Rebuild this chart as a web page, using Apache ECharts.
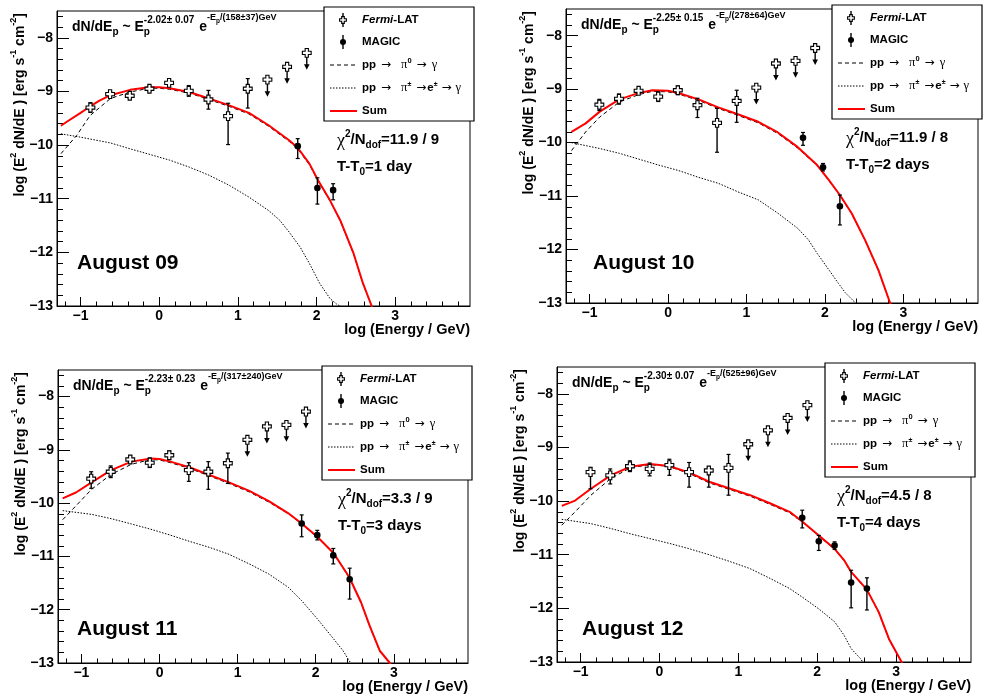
<!DOCTYPE html>
<html>
<head>
<meta charset="utf-8">
<script src="https://cdn.jsdelivr.net/npm/echarts@6/dist/echarts.min.js"></script>
<style>
html, body { margin: 0; padding: 0; background: #fff; }
#chart { width: 990px; height: 698px; }
</style>
</head>
<body>
<div id="chart"></div>
<script>
// ---- Fermi-LAT points: [log10(E/GeV), log flux, lower edge, upper edge] ----
const fermiAug09 = [
  [-0.875, -9.30, -9.39, -9.21], [-0.625, -9.05, -9.10, -9.00], [-0.375, -9.08, -9.13, -9.03],
  [-0.125, -8.95, -9.00, -8.90], [0.125, -8.84, -8.90, -8.78], [0.375, -8.99, -9.09, -8.89],
  [0.625, -9.15, -9.33, -8.98], [0.875, -9.46, -9.99, -9.22], [1.125, -8.95, -9.31, -8.76]
];
const fermiAug10 = [
  [-0.875, -9.29, -9.40, -9.19], [-0.625, -9.18, -9.28, -9.09], [-0.375, -9.03, -9.08, -8.98],
  [-0.125, -9.14, -9.23, -9.05], [0.125, -9.02, -9.10, -8.94], [0.375, -9.30, -9.53, -9.17],
  [0.625, -9.63, -10.18, -9.36], [0.875, -9.22, -9.62, -9.02]
];
const fermiAug11 = [
  [-0.875, -9.54, -9.72, -9.41], [-0.625, -9.41, -9.52, -9.30], [-0.375, -9.18, -9.25, -9.11],
  [-0.125, -9.24, -9.33, -9.15], [0.125, -9.10, -9.18, -9.02], [0.375, -9.38, -9.59, -9.24],
  [0.625, -9.41, -9.74, -9.22], [0.875, -9.25, -9.63, -9.06]
];
const fermiAug12 = [
  [-0.875, -9.46, -9.77, -9.37], [-0.625, -9.52, -9.68, -9.40], [-0.375, -9.35, -9.45, -9.25],
  [-0.125, -9.40, -9.53, -9.29], [0.125, -9.33, -9.52, -9.22], [0.375, -9.46, -9.74, -9.28],
  [0.625, -9.43, -9.74, -9.37], [0.875, -9.38, -9.89, -9.13]
];

// ---- Fermi-LAT upper limits: [log10(E/GeV), log flux] ----
const ulAug09 = [[1.375, -8.78], [1.625, -8.54], [1.875, -8.28]];
const ulAug10 = [[1.125, -8.97], [1.375, -8.52], [1.625, -8.47], [1.875, -8.23]];
const ulAug11 = [[1.125, -8.81], [1.375, -8.56], [1.625, -8.53], [1.875, -8.28]];
const ulAug12 = [[1.125, -8.94], [1.375, -8.68], [1.625, -8.45], [1.875, -8.21]];

// ---- MAGIC points: [log10(E/GeV), log flux, lower edge, upper edge] ----
const magicAug09 = [[1.76, -10.02, -10.25, -9.88], [2.01, -10.80, -11.10, -10.61], [2.21, -10.84, -11.02, -10.72]];
const magicAug10 = [[1.72, -9.91, -10.05, -9.81], [1.975, -10.46, -10.53, -10.39], [2.19, -11.19, -11.54, -10.98]];
const magicAug11 = [[1.82, -10.38, -10.63, -10.22], [2.02, -10.60, -10.69, -10.51], [2.225, -10.98, -11.14, -10.85], [2.435, -11.43, -11.80, -11.22]];
const magicAug12 = [[1.81, -10.31, -10.50, -10.17], [2.02, -10.75, -10.92, -10.64], [2.22, -10.83, -10.90, -10.76], [2.43, -11.52, -11.99, -11.29], [2.63, -11.63, -12.03, -11.43]];

// ---- model curves: total (Sum), pp -> pi0 -> gamma, pp -> pi+- -> e+- -> gamma ----
const sumAug09 = [[-1.25,-9.64],[-1.18,-9.57],[-1.01,-9.41],[-0.88,-9.28],[-0.76,-9.17],[-0.62,-9.07],[-0.37,-8.97],[-0.13,-8.92],[0,-8.92],[0.13,-8.94],[0.38,-9.01],[0.63,-9.13],[0.89,-9.26],[1.14,-9.40],[1.39,-9.63],[1.65,-9.91],[1.76,-10.05],[1.91,-10.35],[2.02,-10.66],[2.17,-11.03],[2.30,-11.40],[2.47,-12.02],[2.59,-12.58],[2.70,-13.0],[2.72,-13.1]];
const pi0Aug09 = [[-1.25,-10.16],[-1.05,-9.82],[-0.88,-9.45],[-0.62,-9.13],[-0.37,-9.01],[-0.13,-8.94],[0,-8.94],[0.13,-8.96],[0.38,-9.03],[0.63,-9.15],[0.89,-9.28],[1.14,-9.42],[1.39,-9.65],[1.65,-9.93],[1.76,-10.07],[1.91,-10.37],[2.02,-10.67],[2.17,-11.04],[2.30,-11.41],[2.47,-12.03],[2.59,-12.59],[2.70,-13.0],[2.72,-13.1]];
const pipmAug09 = [[-1.25,-9.79],[-1.01,-9.85],[-0.62,-9.96],[-0.37,-10.07],[-0.13,-10.17],[0.13,-10.28],[0.38,-10.41],[0.63,-10.56],[0.89,-10.75],[1.14,-10.97],[1.39,-11.22],[1.53,-11.40],[1.65,-11.62],[1.79,-11.90],[1.91,-12.21],[2.04,-12.58],[2.17,-12.86],[2.25,-12.96],[2.32,-13.02]];

const sumAug10 = [[-1.23,-9.80],[-1.05,-9.64],[-0.87,-9.42],[-0.62,-9.19],[-0.37,-9.07],[-0.20,-9.02],[0,-9.03],[0.13,-9.07],[0.39,-9.19],[0.64,-9.34],[0.89,-9.47],[1.15,-9.61],[1.40,-9.81],[1.65,-10.08],[1.90,-10.42],[2.05,-10.70],[2.19,-10.98],[2.34,-11.32],[2.51,-11.82],[2.68,-12.38],[2.83,-13.0],[2.86,-13.1]];
const pi0Aug10 = [[-1.23,-10.15],[-1.05,-9.80],[-0.87,-9.52],[-0.62,-9.24],[-0.37,-9.10],[-0.20,-9.04],[0,-9.05],[0.13,-9.09],[0.39,-9.21],[0.64,-9.36],[0.89,-9.49],[1.15,-9.63],[1.40,-9.83],[1.65,-10.10],[1.90,-10.43],[2.05,-10.71],[2.19,-10.99],[2.34,-11.33],[2.51,-11.83],[2.68,-12.39],[2.83,-13.0],[2.86,-13.1]];
const pipmAug10 = [[-1.23,-10.0],[-0.87,-10.11],[-0.62,-10.20],[-0.37,-10.31],[-0.12,-10.42],[0.13,-10.52],[0.39,-10.65],[0.64,-10.76],[0.89,-10.92],[1.15,-11.07],[1.40,-11.32],[1.65,-11.60],[1.79,-11.82],[1.90,-12.07],[2.05,-12.38],[2.17,-12.63],[2.26,-12.81],[2.37,-12.97],[2.42,-13.05]];

const sumAug11 = [[-1.24,-9.91],[-1.07,-9.80],[-0.87,-9.61],[-0.62,-9.38],[-0.36,-9.22],[-0.11,-9.16],[0,-9.17],[0.14,-9.22],[0.39,-9.33],[0.64,-9.47],[0.89,-9.61],[1.15,-9.77],[1.40,-9.96],[1.65,-10.19],[1.82,-10.38],[2.02,-10.63],[2.23,-10.94],[2.43,-11.39],[2.58,-11.86],[2.69,-12.30],[2.82,-12.77],[2.95,-13.0],[2.97,-13.1]];
const pi0Aug11 = [[-1.24,-10.31],[-1.07,-10.05],[-0.87,-9.74],[-0.62,-9.46],[-0.36,-9.27],[-0.11,-9.18],[0,-9.19],[0.14,-9.24],[0.39,-9.35],[0.64,-9.49],[0.89,-9.63],[1.15,-9.79],[1.40,-9.98],[1.65,-10.20],[1.82,-10.39],[2.02,-10.64],[2.23,-10.95],[2.43,-11.40],[2.58,-11.87],[2.69,-12.31],[2.82,-12.78],[2.95,-13.0],[2.97,-13.1]];
const pipmAug11 = [[-1.24,-10.14],[-0.87,-10.21],[-0.62,-10.29],[-0.36,-10.39],[-0.11,-10.49],[0.14,-10.60],[0.39,-10.72],[0.64,-10.83],[0.89,-10.96],[1.15,-11.14],[1.40,-11.33],[1.65,-11.58],[1.82,-11.83],[2.02,-12.17],[2.23,-12.55],[2.35,-12.77],[2.43,-12.96],[2.47,-13.05]];

const sumAug12 = [[-1.24,-10.09],[-1.07,-9.99],[-0.87,-9.77],[-0.62,-9.52],[-0.37,-9.36],[-0.12,-9.31],[0.03,-9.33],[0.13,-9.35],[0.38,-9.47],[0.63,-9.64],[0.88,-9.76],[1.15,-9.89],[1.40,-10.04],[1.65,-10.20],[1.81,-10.38],[2.02,-10.64],[2.22,-10.89],[2.34,-11.10],[2.43,-11.32],[2.63,-11.65],[2.78,-12.07],[2.91,-12.57],[3.07,-13.0],[3.09,-13.1]];
const pi0Aug12 = [[-1.24,-10.45],[-1.07,-10.20],[-0.87,-9.89],[-0.62,-9.58],[-0.37,-9.38],[-0.12,-9.32],[0.03,-9.34],[0.13,-9.36],[0.38,-9.49],[0.63,-9.66],[0.88,-9.78],[1.15,-9.91],[1.40,-10.06],[1.65,-10.22],[1.81,-10.39],[2.02,-10.65],[2.22,-10.90],[2.34,-11.11],[2.43,-11.33],[2.63,-11.66],[2.78,-12.08],[2.91,-12.58],[3.07,-13.0],[3.09,-13.1]];
const pipmAug12 = [[-1.24,-10.34],[-0.87,-10.42],[-0.62,-10.51],[-0.37,-10.61],[-0.12,-10.70],[0.13,-10.79],[0.38,-10.89],[0.63,-11.0],[0.88,-11.12],[1.15,-11.26],[1.40,-11.44],[1.65,-11.63],[1.81,-11.79],[2.02,-12.01],[2.22,-12.25],[2.34,-12.50],[2.43,-12.75],[2.55,-12.94],[2.60,-13.05]];

// ---- fit results and labels ----
const spectralIndex = ['-2.02\u00b1 0.07', '-2.25\u00b1 0.15', '-2.23\u00b1 0.23', '-2.30\u00b1 0.07'];
const cutoffText = ['(158\u00b137)GeV', '(278\u00b164)GeV', '(317\u00b1240)GeV', '(525\u00b196)GeV'];
const chi2Text = ['11.9 / 9', '11.9 / 8', '3.3 / 9', '4.5 / 8'];
const delayText = ['1 day', '2 days', '3 days', '4 days'];
const dayLabels = ['August 09', 'August 10', 'August 11', 'August 12'];

// ---- axis ticks ----
const xMajorTicks = [-1, 0, 1, 2, 3];
const yMajorTicks = [-13, -12, -11, -10, -9, -8];

const days = [
  { fermi: fermiAug09, ul: ulAug09, magic: magicAug09, sum: sumAug09, pi0: pi0Aug09, pipm: pipmAug09 },
  { fermi: fermiAug10, ul: ulAug10, magic: magicAug10, sum: sumAug10, pi0: pi0Aug10, pipm: pipmAug10 },
  { fermi: fermiAug11, ul: ulAug11, magic: magicAug11, sum: sumAug11, pi0: pi0Aug11, pipm: pipmAug11 },
  { fermi: fermiAug12, ul: ulAug12, magic: magicAug12, sum: sumAug12, pi0: pi0Aug12, pipm: pipmAug12 }
];

// pad geometry (frame of each plot) and where the date tag sits
const pads = [
  { left: 57,  top: 11,  width: 413, height: 295, tagX: 77,  tagY: 263 },
  { left: 566, top: 9,   width: 412, height: 294, tagX: 593, tagY: 263 },
  { left: 58,  top: 370, width: 410, height: 293, tagX: 77,  tagY: 629 },
  { left: 557, top: 367, width: 414, height: 295, tagX: 582, tagY: 629 }
];

const X_MIN = -1.3, X_MAX = 3.95, Y_MIN = -13, Y_MAX = -7.5;
const SANS = '"Liberation Sans", Arial, Helvetica, sans-serif';
const SERIF = '"Liberation Serif", "DejaVu Serif", serif';
const ARROW = '"DejaVu Sans", sans-serif';

function minorTicks(a, b) {
  const out = [];
  for (let k = Math.round(a * 5); k <= Math.round(b * 5); k++) {
    if (k % 5 !== 0) out.push(k / 5);
  }
  return out;
}
const xMinorTicks = minorTicks(-1.2, 3.8);
const yMinorTicks = minorTicks(-12.8, -7.6);
const fmtTick = v => (v < 0 ? '\u2212' + (-v) : String(v));

// ---- text runs with super/subscripts ----
const mctx = document.createElement('canvas').getContext('2d');
function runs(list, x0, y0) {
  let x = x0;
  const items = [];
  for (const r of list) {
    if (r.gap) { x += r.gap; continue; }
    const size = r.size || 14;
    const weight = r.weight || 'bold';
    const fstyle = r.fstyle || 'normal';
    const family = r.family || SANS;
    mctx.font = fstyle + ' ' + weight + ' ' + size + 'px ' + family;
    const w = mctx.measureText(r.t).width;
    items.push({
      type: 'text', x: x, y: y0 + (r.dy || 0), z: 50,
      style: { text: r.t, fontSize: size, fontWeight: weight, fontStyle: fstyle, fontFamily: family,
               fill: '#000', align: 'left', verticalAlign: 'middle' }
    });
    if (!r.hold) x += w;
  }
  return { items: items, width: x - x0 };
}

// ---- marker shapes ----
function openCross(x, y, a, t) {
  return {
    type: 'polygon',
    shape: { points: [[x - t, y - a], [x + t, y - a], [x + t, y - t], [x + a, y - t], [x + a, y + t], [x + t, y + t],
                      [x + t, y + a], [x - t, y + a], [x - t, y + t], [x - a, y + t], [x - a, y - t], [x - t, y - t]] },
    style: { fill: '#fff', stroke: '#000', lineWidth: 1.1 }
  };
}
function vbar(x, y1, y2) {
  return { type: 'line', shape: { x1: x, y1: y1, x2: x, y2: y2 }, style: { stroke: '#000', lineWidth: 1.4 } };
}
function cap(x, y) {
  return { type: 'line', shape: { x1: x - 2, y1: y, x2: x + 2, y2: y }, style: { stroke: '#000', lineWidth: 1.2 } };
}

function renderFermi(params, api) {
  const c = api.coord([api.value(0), api.value(1)]);
  const lo = api.coord([api.value(0), api.value(2)]);
  const hi = api.coord([api.value(0), api.value(3)]);
  return { type: 'group', children: [vbar(c[0], hi[1], lo[1]), cap(c[0], hi[1]), cap(c[0], lo[1]), openCross(c[0], c[1], 4.4, 1.6)] };
}
function renderUL(params, api) {
  const c = api.coord([api.value(0), api.value(1)]);
  const yb = c[1] + 17;
  return { type: 'group', children: [
    vbar(c[0], c[1], yb - 3),
    { type: 'polygon', shape: { points: [[c[0] - 2.8, yb - 5.5], [c[0] + 2.8, yb - 5.5], [c[0], yb]] }, style: { fill: '#000' } },
    openCross(c[0], c[1], 4.4, 1.6)
  ] };
}
function renderMagic(params, api) {
  const c = api.coord([api.value(0), api.value(1)]);
  const lo = api.coord([api.value(0), api.value(2)]);
  const hi = api.coord([api.value(0), api.value(3)]);
  return { type: 'group', children: [vbar(c[0], hi[1], lo[1]), cap(c[0], hi[1]), cap(c[0], lo[1]),
    { type: 'circle', shape: { cx: c[0], cy: c[1], r: 3.3 }, style: { fill: '#000' } }] };
}

// ---- build option ----
const grids = [], xAxes = [], yAxes = [], series = [], graphics = [];
const tickLabel = { fontFamily: SANS, fontWeight: 'bold', fontSize: 14, color: '#000' };

pads.forEach((p, i) => {
  grids.push({ left: p.left, top: p.top, width: p.width, height: p.height, show: true,
               borderColor: '#000', borderWidth: 1, backgroundColor: 'transparent', outerBoundsMode: 'none' });
  xAxes.push({
    type: 'value', gridIndex: i, position: 'bottom', min: X_MIN, max: X_MAX,
    axisLine: { show: true, onZero: false, lineStyle: { color: '#000', width: 1 } },
    axisTick: { show: true, inside: true, length: 9, customValues: xMajorTicks, lineStyle: { color: '#000', width: 1 } },
    axisLabel: Object.assign({ show: true, margin: 3, customValues: xMajorTicks, formatter: fmtTick }, tickLabel),
    splitLine: { show: false }
  });
  xAxes.push({
    type: 'value', gridIndex: i, position: 'bottom', min: X_MIN, max: X_MAX,
    axisLine: { show: false, onZero: false },
    axisTick: { show: true, inside: true, length: 4.5, customValues: xMinorTicks, lineStyle: { color: '#000', width: 1 } },
    axisLabel: { show: false }, splitLine: { show: false }
  });
  yAxes.push({
    type: 'value', gridIndex: i, position: 'left', min: Y_MIN, max: Y_MAX,
    axisLine: { show: true, onZero: false, lineStyle: { color: '#000', width: 1 } },
    axisTick: { show: true, inside: true, length: 12, customValues: yMajorTicks, lineStyle: { color: '#000', width: 1 } },
    axisLabel: Object.assign({ show: true, margin: 4, customValues: yMajorTicks, formatter: fmtTick }, tickLabel),
    splitLine: { show: false }
  });
  yAxes.push({
    type: 'value', gridIndex: i, position: 'left', min: Y_MIN, max: Y_MAX,
    axisLine: { show: false, onZero: false },
    axisTick: { show: true, inside: true, length: 6, customValues: yMinorTicks, lineStyle: { color: '#000', width: 1 } },
    axisLabel: { show: false }, splitLine: { show: false }
  });

  const d = days[i];
  const ax = { xAxisIndex: 2 * i, yAxisIndex: 2 * i };
  series.push(Object.assign({ type: 'line', data: d.pipm, showSymbol: false, clip: true, z: 3,
    lineStyle: { color: '#000', width: 1, type: [1.5, 1.5] } }, ax));
  series.push(Object.assign({ type: 'line', data: d.pi0, showSymbol: false, clip: true, z: 3,
    lineStyle: { color: '#000', width: 1, type: [4, 3] } }, ax));
  series.push(Object.assign({ type: 'line', data: d.sum, showSymbol: false, clip: true, z: 4,
    lineStyle: { color: '#ff0000', width: 2 } }, ax));
  series.push(Object.assign({ type: 'custom', data: d.fermi, renderItem: renderFermi, clip: false, z: 6,
    encode: { x: 0, y: 1 } }, ax));
  series.push(Object.assign({ type: 'custom', data: d.ul, renderItem: renderUL, clip: false, z: 6,
    encode: { x: 0, y: 1 } }, ax));
  series.push(Object.assign({ type: 'custom', data: d.magic, renderItem: renderMagic, clip: false, z: 6,
    encode: { x: 0, y: 1 } }, ax));

  const L = p.left, T = p.top, R = p.left + p.width, B = p.top + p.height;

  // axis titles
  graphics.push({ type: 'text', x: R, y: B + 24, z: 50,
    style: { text: 'log (Energy / GeV)', fontFamily: SANS, fontWeight: 'bold', fontSize: 14.5, fill: '#000',
             align: 'right', verticalAlign: 'middle' } });
  const yt = runs([
    { t: 'log (E', size: 14 }, { t: '2', size: 9, dy: -6 }, { t: ' dN/dE ) [erg s', size: 14 },
    { t: '-1', size: 9, dy: -6 }, { t: ' cm', size: 14 }, { t: '-2', size: 9, dy: -6 }, { t: ']', size: 14 }
  ], 0, 0);
  graphics.push({ type: 'group', x: L - 37, y: T + 2 + yt.width, rotation: Math.PI / 2, children: yt.items });

  // fitted proton spectrum
  const f = runs([
    { t: 'dN/dE', size: 14 }, { t: 'p', size: 10, dy: 5 }, { t: ' ~ ', size: 14 }, { t: 'E', size: 14 },
    { t: 'p', size: 10, dy: 5, hold: true }, { t: spectralIndex[i], size: 10, dy: -7 }, { gap: 1 },
    { t: ' e', size: 14 }, { t: '-E', size: 9, dy: -9 }, { t: 'p', size: 6.5, dy: -6 }, { t: '/' + cutoffText[i], size: 9, dy: -9 }
  ], L + 15, T + 16);
  f.items.forEach(e => graphics.push(e));

  // fit quality and time after burst
  runs([
    { t: '\u03c7', size: 18, weight: 'normal', family: SERIF, dy: 1 }, { t: '2', size: 10, dy: -6 },
    { t: '/N', size: 15 }, { t: 'dof', size: 10, dy: 5 }, { t: '=' + chi2Text[i], size: 15 }
  ], L + 280, T + 129).items.forEach(e => graphics.push(e));
  runs([
    { t: 'T-T', size: 15 }, { t: '0', size: 10, dy: 5 }, { t: '=' + delayText[i], size: 15 }
  ], L + 280, T + 156).items.forEach(e => graphics.push(e));

  // date tag
  graphics.push({ type: 'text', x: p.tagX, y: p.tagY, z: 50,
    style: { text: dayLabels[i], fontFamily: SANS, fontWeight: 'bold', fontSize: 21, fill: '#000',
             align: 'left', verticalAlign: 'middle' } });

  // legend box
  const bx = R - 146, by = T - 4, bw = 150, bh = 114;
  graphics.push({ type: 'rect', z: 40, shape: { x: bx, y: by, width: bw, height: bh },
    style: { fill: '#fff', stroke: '#000', lineWidth: 1.2 } });
  const rows = [T + 9, T + 31, T + 54, T + 77, T + 100];
  const mx = bx + 19, tx = bx + 38;
  [
    vbar(mx, rows[0] - 7, rows[0] + 7), openCross(mx, rows[0], 3.4, 1.3),
    vbar(mx, rows[1] - 7, rows[1] + 7), { type: 'circle', shape: { cx: mx, cy: rows[1], r: 3 }, style: { fill: '#000' } },
    { type: 'line', shape: { x1: bx + 6, y1: rows[2], x2: bx + 33, y2: rows[2] }, style: { stroke: '#000', lineWidth: 1, lineDash: [4, 3] } },
    { type: 'line', shape: { x1: bx + 6, y1: rows[3], x2: bx + 33, y2: rows[3] }, style: { stroke: '#000', lineWidth: 1, lineDash: [1.5, 1.5] } },
    { type: 'line', shape: { x1: bx + 6, y1: rows[4], x2: bx + 33, y2: rows[4] }, style: { stroke: '#ff0000', lineWidth: 2 } }
  ].forEach(e => { e.z = 45; graphics.push(e); });
  const arrow = { t: '\u2192', size: 12, weight: 'normal', family: ARROW };
  const greek = (s) => ({ t: s, size: 12.5, weight: 'normal', family: SERIF });
  [
    runs([{ t: 'Fermi', size: 11.5, fstyle: 'italic' }, { t: '-LAT', size: 11.5 }], tx, rows[0]),
    runs([{ t: 'MAGIC', size: 11.5 }], tx, rows[1]),
    runs([{ t: 'pp', size: 11.5 }, { gap: 5 }, arrow, { gap: 10 }, greek('\u03c0'), { t: '0', size: 7.5, dy: -4 },
          { gap: 5 }, arrow, { gap: 5 }, greek('\u03b3')], tx, rows[2]),
    runs([{ t: 'pp', size: 11.5 }, { gap: 5 }, arrow, { gap: 10 }, greek('\u03c0'), { t: '\u00b1', size: 7, dy: -4 },
          { gap: 5 }, arrow, { gap: 1 }, { t: 'e', size: 11.5 }, { t: '\u00b1', size: 7, dy: -4 }, { gap: 4 }, arrow, { gap: 4 },
          greek('\u03b3')], tx, rows[3]),
    runs([{ t: 'Sum', size: 11.5 }], tx, rows[4])
  ].forEach(r => r.items.forEach(e => { e.z = 45; graphics.push(e); }));
});

const chart = echarts.init(document.getElementById('chart'), null, { renderer: 'canvas' });
chart.setOption({
  backgroundColor: '#fff',
  animation: false,
  grid: grids,
  xAxis: xAxes,
  yAxis: yAxes,
  series: series,
  graphic: { elements: graphics }
});
</script>
</body>
</html>
